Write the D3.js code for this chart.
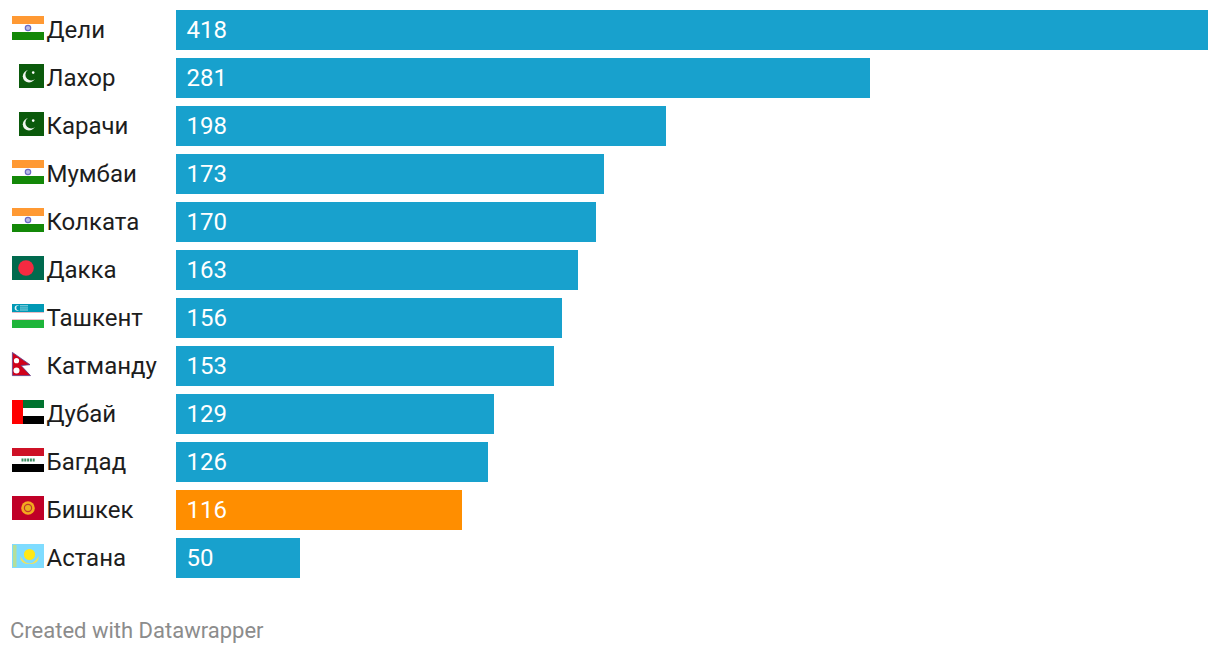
<!DOCTYPE html>
<html><head><meta charset="utf-8">
<script src="https://cdnjs.cloudflare.com/ajax/libs/d3/7.8.5/d3.min.js"></script>
<style>html,body{margin:0;padding:0;background:#fff}svg{display:block}text{font-family:Roboto,sans-serif}</style>
</head><body><svg id="c" width="1220" height="654"></svg>
<script>
const cities = ["Дели","Лахор","Карачи","Мумбаи","Колката","Дакка","Ташкент","Катманду","Дубай","Багдад","Бишкек","Астана"];
const values = [418,281.1,198.46,173.35,170.1,162.8,156.35,153.1,128.8,126.4,115.85,50.2];
const flagCodes = ["in","pk","pk","in","in","bd","uz","np","ae","iq","kg","kz"];
const highlighted = ["Бишкек"];
const footer = "Created with Datawrapper";

const svg = d3.select("#c");
const x = d3.scaleLinear().domain([0,418]).range([176,1208]);
const rows = d3.scalePoint().domain(cities).range([10,538]);
const label = d3.format(".0f");

const rect=(g,a,b,w,h,f)=>g.append("rect").attr("x",a).attr("y",b).attr("width",w).attr("height",h).attr("fill",f);
const circ=(g,a,b,r,f)=>g.append("circle").attr("cx",a).attr("cy",b).attr("r",r).attr("fill",f);
const flags = {
 in(g){rect(g,12,0,32,8,"#ff9933");rect(g,12,8,32,8,"#fff");rect(g,12,16,32,8,"#138808");
   g.append("circle").attr("cx",28).attr("cy",12).attr("r",2.7).attr("fill","#b9bbe6").attr("stroke","#6a6ac4").attr("stroke-width",1.2);},
 pk(g){rect(g,19,0,25,24,"#0b5a0c");circ(g,29,12.3,6.2,"#f2f6f0");circ(g,31.2,10.7,5.8,"#0b5a0c");circ(g,33.2,8.6,1.3,"#fff");},
 bd(g){rect(g,12,0,32,24,"#006a4e");circ(g,26,12,7.8,"#f42a41");},
 uz(g){rect(g,12,0,32,8,"#0099b5");rect(g,12,8,32,16,"#fff");rect(g,12,8,32,0.9,"#e8b4bc");rect(g,12,15.2,32,0.9,"#e8b4bc");rect(g,12,16,32,8,"#1eb53a");
   circ(g,17.5,4,2.8,"#e4f4f8");circ(g,18.6,4,2.4,"#0099b5");
   for(let i=0;i<4;i++)for(let j=0;j<3;j++)circ(g,21+i*2,1.8+j*2.1,0.7,"#d8f0f5");},
 np(g){g.append("path").attr("d","M12.4,0.4 L30,12.7 L21,13.5 L30.5,23.6 L12.4,23.6 Z").attr("fill","#d0021b").attr("stroke","#5a3a8a").attr("stroke-width",0.8);
   circ(g,16.5,8.7,2.6,"#fff");circ(g,16.5,18.5,3,"#fff");},
 ae(g){rect(g,23,0,21,8,"#00732f");rect(g,23,8,21,8,"#fff");rect(g,23,16,21,8,"#000");rect(g,12,0,11,24,"#ff0000");},
 iq(g){rect(g,12,0,32,8,"#ce1126");rect(g,12,8,32,8,"#fff");rect(g,12,16,32,8,"#000");
   for(let i=0;i<5;i++)rect(g,21.5+i*2.8,10.5,2,3,"#3f8f63");},
 kg(g){rect(g,12,0,32,24,"#c00027");circ(g,28,12,6.8,"#f4a91f");
   g.append("circle").attr("cx",28).attr("cy",12).attr("r",3.6).attr("fill","#e8b020").attr("stroke","#c0392b").attr("stroke-width",1.2);},
 kz(g){rect(g,12,0,32,24,"#7fdcff");rect(g,13,1,3.5,22,"#b5df9a");circ(g,29.5,10.5,5.6,"#ffe816");
   g.append("path").attr("d","M20,12 Q29.5,27 39,12 Q38,21 29.5,20 Q21,21 20,12Z").attr("fill","#f3e25a");}
};

const row = svg.selectAll("g.row").data(cities).join("g").attr("class","row")
  .attr("transform",d=>`translate(0,${rows(d)})`);
row.each(function(d,i){ const f=d3.select(this).append("g").attr("transform","translate(0,6)"); flags[flagCodes[i]](f); });
row.append("text").attr("x",46.5).attr("y",28).attr("font-size",24).attr("fill","#1d1d1d").text(d=>d);
row.append("rect").attr("x",x(0)).attr("y",0).attr("height",40)
  .attr("width",(d,i)=>x(values[i])-x(0))
  .attr("shape-rendering","crispEdges")
  .attr("fill",d=>highlighted.includes(d)?"#ff8e00":"#18a1cd");
row.append("text").attr("x",186.5).attr("y",28).attr("font-size",24).attr("fill","#fff").text((d,i)=>label(values[i]));
svg.append("text").attr("x",10).attr("y",638).attr("font-size",22).attr("fill","#8c8c8c").text(footer);
</script></body></html>
